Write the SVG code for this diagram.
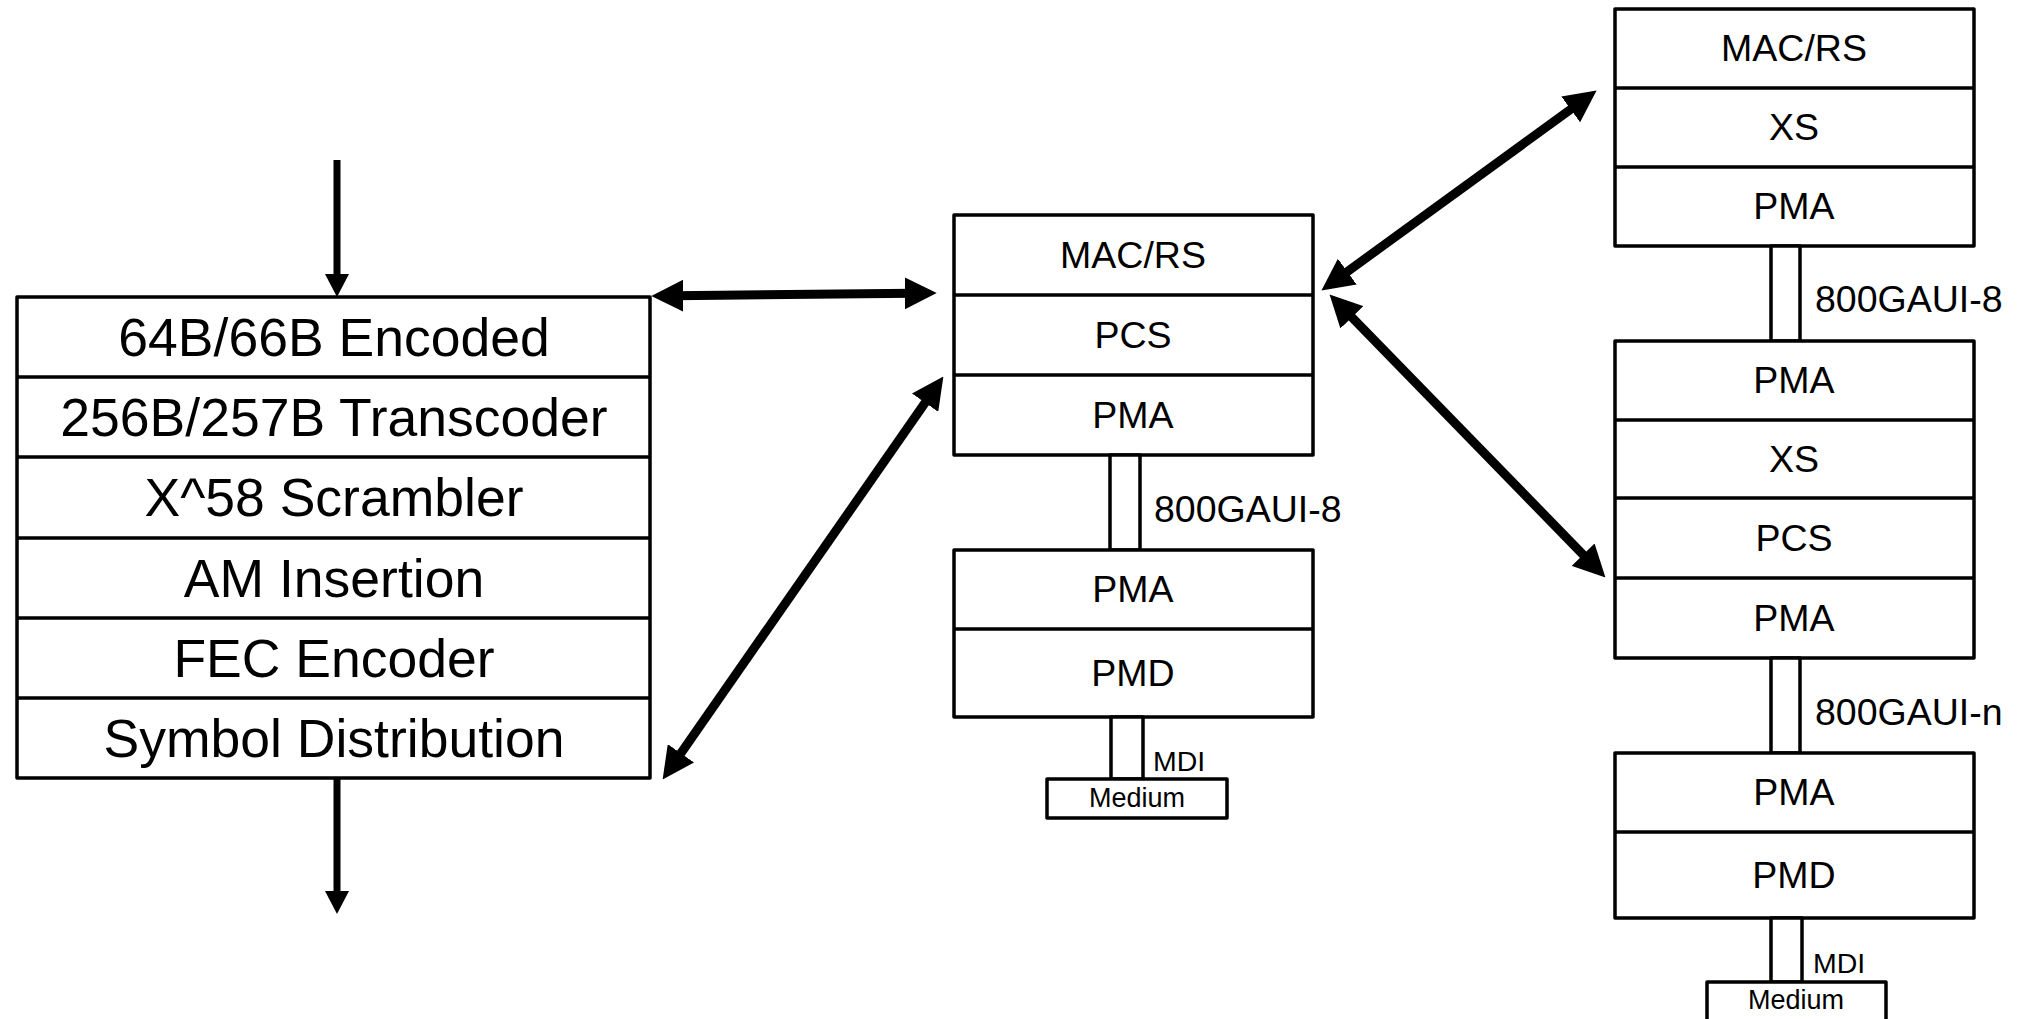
<svg xmlns="http://www.w3.org/2000/svg" width="2018" height="1019" viewBox="0 0 2018 1019">
<style>
.box{fill:#fff;stroke:#000;stroke-width:3.5;stroke-linejoin:round}
.div{stroke:#000;stroke-width:3.5}
.t{font-family:"Liberation Sans",Arial,sans-serif;fill:#000}
.big{font-size:53.5px;text-anchor:middle}
.mid{font-size:37.5px;text-anchor:middle}
.lbl{font-size:37.5px}
.sm{font-size:28.5px}
.md{font-size:27px;text-anchor:middle}
.thick{stroke:#000;stroke-width:9;fill:none}
.thin{stroke:#000;stroke-width:7;fill:none}
</style>
<defs>
<marker id="hb" markerUnits="userSpaceOnUse" markerWidth="32" markerHeight="32" viewBox="0 0 31 31" refX="9" refY="15.5" orient="auto-start-reverse"><path d="M0,0L31,15.5L0,31z" fill="#000"/></marker>
<marker id="hs" markerUnits="userSpaceOnUse" markerWidth="24" markerHeight="24" viewBox="0 0 23 24" refX="6" refY="12" orient="auto"><path d="M0,0L23,12L0,24z" fill="#000"/></marker>
</defs>

<g id="left-stack">
<rect class="box" x="17" y="297" width="633" height="481"/>
<line class="div" x1="17" y1="377" x2="650" y2="377"/>
<line class="div" x1="17" y1="457" x2="650" y2="457"/>
<line class="div" x1="17" y1="538" x2="650" y2="538"/>
<line class="div" x1="17" y1="618" x2="650" y2="618"/>
<line class="div" x1="17" y1="698" x2="650" y2="698"/>
<text class="t big" x="334" y="356">64B/66B Encoded</text>
<text class="t big" x="334" y="436">256B/257B Transcoder</text>
<text class="t big" x="334" y="516">X^58 Scrambler</text>
<text class="t big" x="334" y="597">AM Insertion</text>
<text class="t big" x="334" y="677">FEC Encoder</text>
<text class="t big" x="334" y="757">Symbol Distribution</text>
</g>

<g id="mid-upper">
<rect class="box" x="954" y="215" width="359" height="240"/>
<line class="div" x1="954" y1="295" x2="1313" y2="295"/>
<line class="div" x1="954" y1="375" x2="1313" y2="375"/>
<text class="t mid" x="1133" y="268">MAC/RS</text>
<text class="t mid" x="1133" y="348">PCS</text>
<text class="t mid" x="1133" y="428">PMA</text>
</g>
<g id="mid-link">
<rect class="box" x="1110" y="455" width="30" height="95"/>
<text class="t lbl" x="1154" y="522">800GAUI-8</text>
</g>
<g id="mid-lower">
<rect class="box" x="954" y="550" width="359" height="167"/>
<line class="div" x1="954" y1="629" x2="1313" y2="629"/>
<text class="t mid" x="1133" y="602">PMA</text>
<text class="t mid" x="1133" y="686">PMD</text>
</g>
<g id="mid-mdi">
<rect class="box" x="1111" y="717" width="32" height="62"/>
<text class="t sm" x="1153" y="771">MDI</text>
</g>
<g id="mid-medium">
<rect class="box" x="1047" y="779" width="180" height="39"/>
<text class="t md" x="1137" y="807">Medium</text>
</g>

<g id="right-a">
<rect class="box" x="1615" y="9" width="359" height="237"/>
<line class="div" x1="1615" y1="88" x2="1974" y2="88"/>
<line class="div" x1="1615" y1="167" x2="1974" y2="167"/>
<text class="t mid" x="1794" y="61">MAC/RS</text>
<text class="t mid" x="1794" y="140">XS</text>
<text class="t mid" x="1794" y="219">PMA</text>
</g>
<g id="right-link1">
<rect class="box" x="1771" y="246" width="29" height="95"/>
<text class="t lbl" x="1815" y="312">800GAUI-8</text>
</g>
<g id="right-b">
<rect class="box" x="1615" y="341" width="359" height="317"/>
<line class="div" x1="1615" y1="420" x2="1974" y2="420"/>
<line class="div" x1="1615" y1="498" x2="1974" y2="498"/>
<line class="div" x1="1615" y1="578" x2="1974" y2="578"/>
<text class="t mid" x="1794" y="393">PMA</text>
<text class="t mid" x="1794" y="472">XS</text>
<text class="t mid" x="1794" y="551">PCS</text>
<text class="t mid" x="1794" y="631">PMA</text>
</g>
<g id="right-link2">
<rect class="box" x="1771" y="658" width="29" height="95"/>
<text class="t lbl" x="1815" y="725">800GAUI-n</text>
</g>
<g id="right-c">
<rect class="box" x="1615" y="753" width="359" height="165"/>
<line class="div" x1="1615" y1="832" x2="1974" y2="832"/>
<text class="t mid" x="1794" y="805">PMA</text>
<text class="t mid" x="1794" y="888">PMD</text>
</g>
<g id="right-mdi">
<rect class="box" x="1771" y="918" width="31" height="64"/>
<text class="t sm" x="1813" y="973">MDI</text>
</g>
<g id="right-medium">
<rect class="box" x="1707" y="982" width="179" height="45"/>
<text class="t md" x="1796" y="1009">Medium</text>
</g>

<g id="connectors">
<line class="thin" x1="337" y1="160" x2="337" y2="280" marker-end="url(#hs)"/>
<line class="thin" x1="337" y1="778" x2="337" y2="897" marker-end="url(#hs)"/>
<line class="thick" x1="674" y1="295.8" x2="914" y2="293.2" marker-start="url(#hb)" marker-end="url(#hb)"/>
<line class="thick" x1="675.6" y1="760.9" x2="930.4" y2="395.1" marker-start="url(#hb)" marker-end="url(#hb)"/>
<line class="thick" x1="1339.8" y1="277.1" x2="1578.2" y2="103.9" marker-start="url(#hb)" marker-end="url(#hb)"/>
<line class="thick" x1="1345.4" y1="310.7" x2="1589.6" y2="561.3" marker-start="url(#hb)" marker-end="url(#hb)"/>
</g>
</svg>
